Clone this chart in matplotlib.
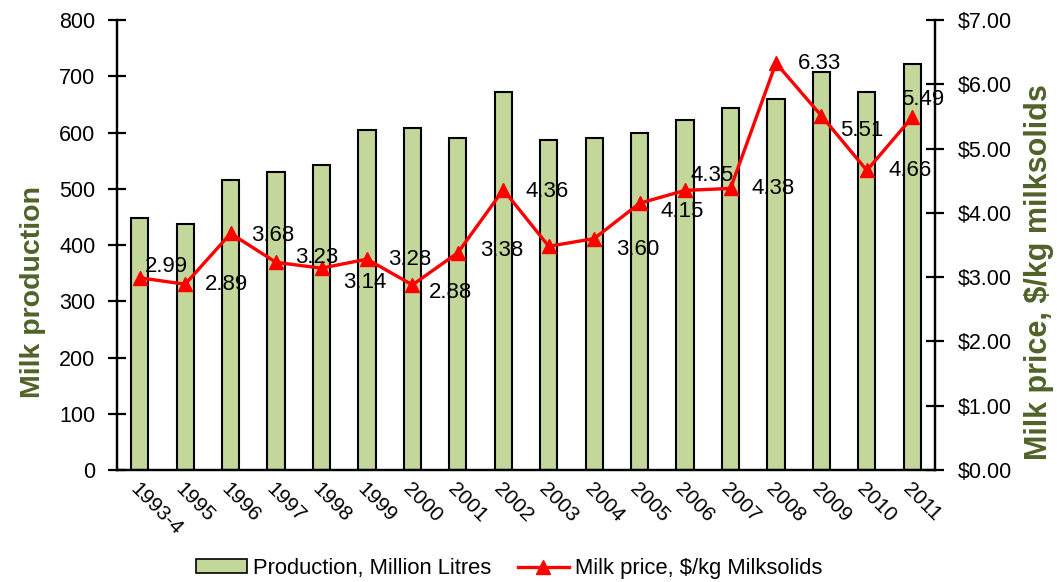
import matplotlib
matplotlib.use("Agg")
import matplotlib.pyplot as plt
from matplotlib.ticker import FuncFormatter

plt.rcParams['font.family'] = ['Liberation Sans', 'DejaVu Sans']

# Data
years = ['1993-4', '1995', '1996', '1997', '1998', '1999', '2000', '2001', '2002',
         '2003', '2004', '2005', '2006', '2007', '2008', '2009', '2010', '2011']
production = [448, 438, 515, 530, 543, 605, 608, 590, 672,
              587, 590, 600, 622, 643, 660, 707, 672, 722]
price = [2.99, 2.89, 3.68, 3.23, 3.14, 3.28, 2.88, 3.38, 4.36,
         3.48, 3.60, 4.15, 4.35, 4.38, 6.33, 5.51, 4.66, 5.49]
# 2003 has no visible data label in the original
show_label = [True] * 9 + [False] + [True] * 8

# label offsets in pixels (dx, dy), as placed in the original
label_offsets = [(27, 11), (41, 0), (42, -2), (41, 5), (43, -14), (43, 0),
                 (38, -8), (44, 2), (44, -2), (0, 0), (44, -11), (43, -8),
                 (27, 15), (43, 0), (44, 0), (40, -15), (43, 0), (10, 18)]

bar_color = '#c4d79b'
line_color = '#ff0000'
title_color = '#4f6228'

fig = plt.figure(figsize=(10.57, 5.82), dpi=100)
ax = fig.add_axes([0.1107, 0.1924, 0.7739, 0.7732])
ax2 = ax.twinx()

x = list(range(len(years)))
ax.bar(x, production, width=0.38, color=bar_color, edgecolor='black', linewidth=1.5, zorder=2)
ax.set_xlim(-0.5, len(years) - 0.5)
ax.set_ylim(0, 800)
ax.set_yticks(range(0, 801, 100))
ax.set_xticks(x)
ax.set_xticklabels(years, rotation=-45, ha='left', va='top', rotation_mode='anchor', fontsize=15)
ax.tick_params(axis='x', length=0, pad=7)
ax.tick_params(axis='y', direction='inout', length=13, width=1.6, labelsize=15.5, pad=9)
ax.set_ylabel('Milk production', fontsize=20.5, fontweight='bold', color=title_color)
ax.yaxis.set_label_coords(-0.087, 0.396)

ln, = ax2.plot(x, price, color=line_color, linewidth=2.4, marker='^', markersize=10, zorder=3)
ax2.set_ylim(0, 7)
ax2.set_yticks(range(0, 8))
ax2.yaxis.set_major_formatter(FuncFormatter(lambda v, p: f'${v:.2f}'))
ax2.tick_params(axis='y', direction='inout', length=13, width=1.6, labelsize=15.5, pad=10)
ax2.set_ylabel('Milk price, $/kg milksolids', fontsize=22, fontweight='bold', color=title_color)
ax2.yaxis.set_label_coords(1.109, 0.44)

for i, (xi, yi) in enumerate(zip(x, price)):
    if not show_label[i]:
        continue
    dx, dy = label_offsets[i]
    ax2.annotate(f'{yi:.2f}', xy=(xi, yi), xytext=(dx * 0.72, dy * 0.72),
                 textcoords='offset points', ha='center', va='center', fontsize=16, zorder=4)

for a in (ax, ax2):
    a.spines['top'].set_visible(False)
    for s in ('left', 'right', 'bottom'):
        a.spines[s].set_linewidth(1.6)

bars_handle = plt.Rectangle((0, 0), 1, 1, facecolor=bar_color, edgecolor='black', linewidth=1.2)
fig.legend([bars_handle, ln], ['Production, Million Litres', 'Milk price, $/kg Milksolids'],
           loc='center', bbox_to_anchor=(0.482, 0.023), ncol=2, frameon=False,
           fontsize=15.8, handlelength=2.3, handleheight=0.6, columnspacing=1.2, handletextpad=0.3)

fig.savefig('out.png', dpi=100)
